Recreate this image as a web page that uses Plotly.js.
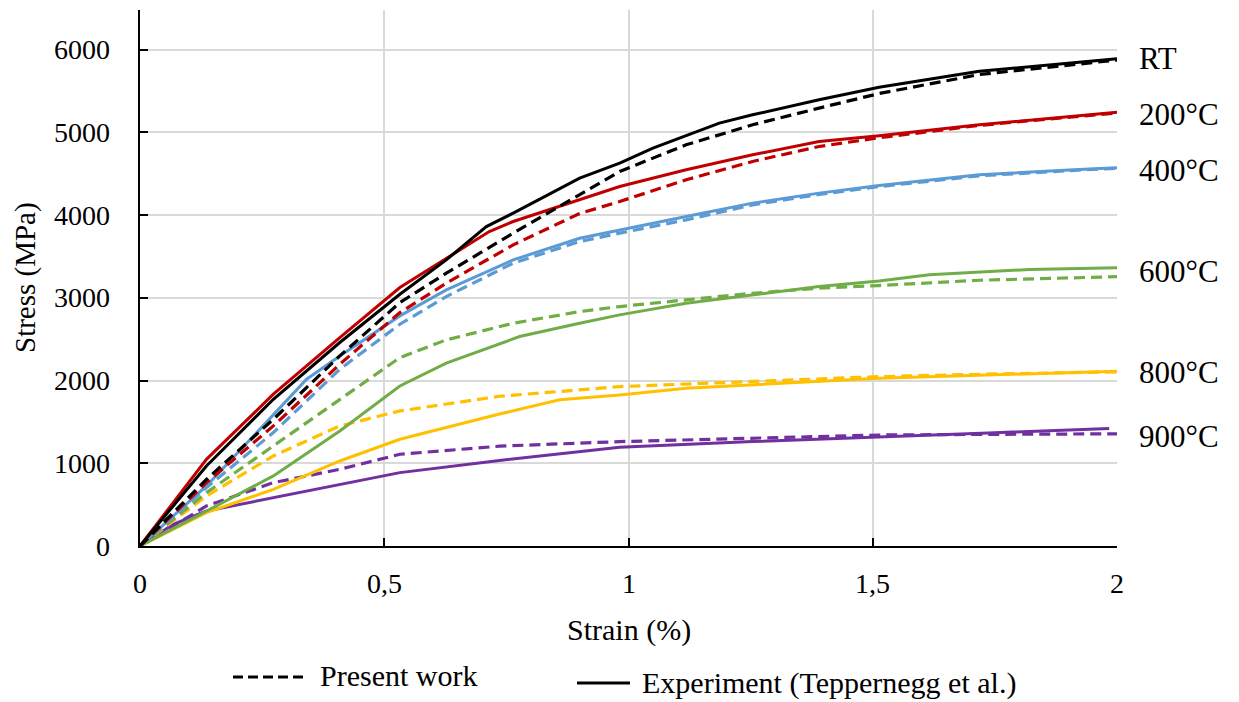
<!DOCTYPE html>
<html>
<head>
<meta charset="utf-8">
<script src="https://cdn.plot.ly/plotly-3.0.1.min.js"></script>
<style>
html,body{margin:0;padding:0;background:#fff;}
#chart{width:1239px;height:702px;}
</style>
</head>
<body>
<div id="chart"></div>
<script>
// ---- Data (strain in %, stress in MPa) ----
const seriesNames = ["RT", "200°C", "400°C", "600°C", "800°C", "900°C"];
const seriesColors = ["#000000", "#C00000", "#5B9BD5", "#70AD47", "#FFC000", "#7030A0"];

// Experiment (Teppernegg et al.) - solid
const expRT_x   = [0, 0.136, 0.273, 0.409, 0.532, 0.627, 0.709, 0.764, 0.9, 0.982, 1.05, 1.186, 1.254, 1.39, 1.513, 1.718, 1.922, 2.0];
const expRT_y   = [0, 968, 1774, 2460, 3044, 3459, 3862, 4024, 4447, 4629, 4809, 5113, 5213, 5395, 5546, 5740, 5849, 5890];
const exp200_x  = [0, 0.136, 0.273, 0.409, 0.532, 0.627, 0.715, 0.764, 0.9, 0.982, 1.118, 1.254, 1.39, 1.513, 1.718, 1.922, 2.0];
const exp200_y  = [0, 1048, 1835, 2520, 3125, 3479, 3802, 3923, 4185, 4346, 4548, 4729, 4890, 4960, 5092, 5201, 5244];
const exp400_x  = [0, 0.136, 0.239, 0.341, 0.409, 0.532, 0.627, 0.764, 0.9, 0.982, 1.118, 1.254, 1.39, 1.513, 1.718, 1.922, 2.0];
const exp400_y  = [0, 726, 1371, 2016, 2298, 2782, 3097, 3459, 3721, 3822, 3983, 4145, 4266, 4358, 4488, 4553, 4574];
const exp600_x  = [0, 0.136, 0.273, 0.409, 0.532, 0.627, 0.777, 0.9, 0.982, 1.118, 1.254, 1.39, 1.513, 1.616, 1.82, 2.0];
const exp600_y  = [0, 423, 847, 1391, 1935, 2210, 2532, 2693, 2794, 2935, 3036, 3137, 3203, 3278, 3343, 3364];
const exp800_x  = [0, 0.136, 0.273, 0.409, 0.532, 0.736, 0.859, 0.982, 1.118, 1.254, 1.513, 1.75, 2.0];
const exp800_y  = [0, 403, 685, 1028, 1290, 1595, 1767, 1826, 1907, 1947, 2028, 2070, 2112];
const exp900_x  = [0, 0.068, 0.136, 0.273, 0.409, 0.532, 0.736, 0.982, 1.254, 1.513, 1.75, 1.984];
const exp900_y  = [0, 262, 423, 585, 746, 887, 1034, 1193, 1262, 1322, 1370, 1420];

// Present work - dashed
const simRT_x   = [0, 0.136, 0.273, 0.409, 0.532, 0.627, 0.764, 0.9, 0.982, 1.118, 1.254, 1.39, 1.513, 1.718, 1.922, 2.0];
const simRT_y   = [0, 806, 1532, 2298, 2943, 3298, 3782, 4246, 4528, 4850, 5092, 5294, 5470, 5700, 5830, 5875];
const sim200_x  = [0, 0.136, 0.273, 0.409, 0.532, 0.627, 0.764, 0.9, 0.982, 1.118, 1.254, 1.39, 1.513, 1.718, 1.922, 2.0];
const sim200_y  = [0, 766, 1452, 2197, 2822, 3177, 3641, 4020, 4165, 4427, 4649, 4830, 4935, 5085, 5195, 5235];
const sim400_x  = [0, 0.136, 0.273, 0.409, 0.532, 0.627, 0.764, 0.9, 0.982, 1.118, 1.254, 1.39, 1.513, 1.718, 1.922, 2.0];
const sim400_y  = [0, 706, 1371, 2137, 2681, 3016, 3419, 3681, 3782, 3943, 4124, 4250, 4345, 4475, 4545, 4565];
const sim600_x  = [0, 0.136, 0.273, 0.409, 0.532, 0.627, 0.764, 0.9, 0.982, 1.118, 1.254, 1.39, 1.513, 1.718, 2.0];
const sim600_y  = [0, 645, 1210, 1774, 2278, 2492, 2693, 2834, 2895, 2976, 3056, 3117, 3149, 3213, 3256];
const sim800_x  = [0, 0.136, 0.273, 0.409, 0.532, 0.736, 0.982, 1.254, 1.513, 1.75, 2.0];
const sim800_y  = [0, 605, 1089, 1452, 1633, 1810, 1927, 1987, 2048, 2080, 2105];
const sim900_x  = [0, 0.136, 0.273, 0.409, 0.532, 0.736, 0.982, 1.254, 1.513, 1.75, 2.0];
const sim900_y  = [0, 484, 766, 927, 1109, 1207, 1262, 1302, 1342, 1350, 1356];

const xTickVals = [0, 0.5, 1, 1.5, 2];
const xTickText = ["0", "0,5", "1", "1,5", "2"];
const yTickVals = [0, 1000, 2000, 3000, 4000, 5000, 6000];
const yTickText = ["0", "1000", "2000", "3000", "4000", "5000", "6000"];
const labelY = [5891, 5214, 4536, 3314, 2093, 1318];
const legendLabels = ["Present work", "Experiment (Teppernegg et al.)"];
const xTitle = "Strain (%)";
const yTitle = "Stress (MPa)";

// ---- Build traces ----
const expX = [expRT_x, exp200_x, exp400_x, exp600_x, exp800_x, exp900_x];
const expY = [expRT_y, exp200_y, exp400_y, exp600_y, exp800_y, exp900_y];
const simX = [simRT_x, sim200_x, sim400_x, sim600_x, sim800_x, sim900_x];
const simY = [simRT_y, sim200_y, sim400_y, sim600_y, sim800_y, sim900_y];

const traces = [];
for (let i = seriesNames.length - 1; i >= 0; i--) {
  traces.push({
    x: simX[i], y: simY[i], type: "scatter", mode: "lines",
    name: seriesNames[i] + " " + legendLabels[0],
    line: {color: seriesColors[i], width: 3.2, dash: "11px,6px"},
    showlegend: false
  });
  traces.push({
    x: expX[i], y: expY[i], type: "scatter", mode: "lines",
    name: seriesNames[i] + " " + legendLabels[1],
    line: {color: seriesColors[i], width: 3},
    showlegend: false
  });
}

const FAM = "Liberation Serif";
function f(sz) { return {family: FAM, size: sz, color: "#000000"}; }

// all texts placed with the axes' own data coordinates
const annotations = seriesNames.map((n, i) => ({
  x: 2, y: labelY[i], xref: "x", yref: "y",
  text: n, showarrow: false, xanchor: "left", yanchor: "middle",
  xshift: 20, font: f(31)
}));
// tick labels
xTickVals.forEach((v, i) => annotations.push({
  x: v, y: 0, xref: "x", yref: "y", text: xTickText[i], showarrow: false,
  xanchor: "center", yanchor: "middle", yshift: -37, font: f(28)
}));
yTickVals.forEach((v, i) => annotations.push({
  x: 0, y: v, xref: "x", yref: "y", text: yTickText[i], showarrow: false,
  xanchor: "right", yanchor: "middle", xshift: -28, font: f(28)
}));
// axis titles
annotations.push({
  x: 1, y: 0, xref: "x", yref: "y", text: xTitle, showarrow: false,
  xanchor: "center", yanchor: "middle", yshift: -84, font: f(30)
});
annotations.push({
  x: 0, y: 3240, xref: "x", yref: "y", text: yTitle, showarrow: false,
  xanchor: "center", yanchor: "middle", xshift: -115, textangle: -90, font: f(29)
});
// legend texts
annotations.push({
  x: 0, y: 0, xref: "x", yref: "y", text: legendLabels[0], showarrow: false,
  xanchor: "left", yanchor: "middle", xshift: 178, yshift: -129, font: f(30)
});
annotations.push({
  x: 0, y: 0, xref: "x", yref: "y", text: legendLabels[1], showarrow: false,
  xanchor: "left", yanchor: "middle", xshift: 500, yshift: -137, font: f(30)
});

const shapes = [
  {type: "line", xref: "paper", yref: "paper", x0: 0.0952, x1: 0.1689, y0: -0.2444, y1: -0.2444,
   line: {color: "#000", width: 3, dash: "10px,5px"}},
  {type: "line", xref: "paper", yref: "paper", x0: 0.4473, x1: 0.5015, y0: -0.2556, y1: -0.2556,
   line: {color: "#000", width: 3}}
];

const layout = {
  width: 1239, height: 702,
  margin: {l: 140, r: 122, t: 10, b: 156},
  paper_bgcolor: "#fff", plot_bgcolor: "#fff",
  showlegend: false,
  font: f(27),
  xaxis: {
    range: [0, 2], tickmode: "array", tickvals: xTickVals,
    showticklabels: false,
    showgrid: true, gridcolor: "#d9d9d9", gridwidth: 1.5,
    showline: true, linecolor: "#000", linewidth: 2,
    ticks: "inside", ticklen: 8, tickcolor: "#000", tickwidth: 2,
    zeroline: false
  },
  yaxis: {
    range: [0, 6480], tickmode: "array", tickvals: yTickVals,
    showticklabels: false,
    showgrid: true, gridcolor: "#d9d9d9", gridwidth: 1.5,
    showline: true, linecolor: "#000", linewidth: 2,
    ticks: "inside", ticklen: 8, tickcolor: "#000", tickwidth: 2,
    zeroline: false
  },
  annotations: annotations,
  shapes: shapes
};

Plotly.newPlot("chart", traces, layout, {displayModeBar: false});
</script>
</body>
</html>
